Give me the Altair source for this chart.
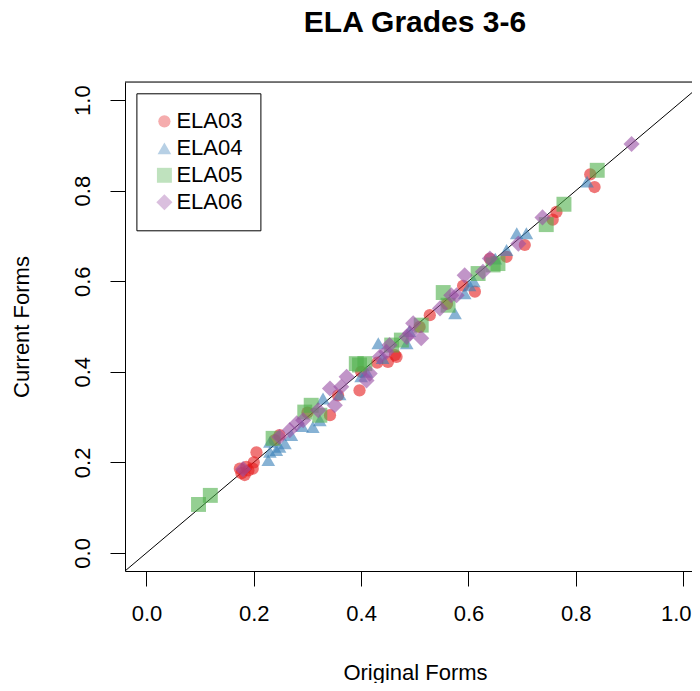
import altair as alt
import pandas as pd

# ---- data ----
groups = ["ELA03", "ELA04", "ELA05", "ELA06"]
colors = ["#E41A1C", "#377EB8", "#4DAF4A", "#984EA3"]
shapes = ["circle", "triangle-up", "square", "diamond"]
sizes = [150, 260, 120, 215]

ela03_orig = [0.174, 0.177, 0.183, 0.186, 0.190, 0.198, 0.205, 0.200, 0.239, 0.248, 0.300, 0.342, 0.357,
              0.397, 0.400, 0.430, 0.450, 0.466, 0.463, 0.509, 0.528, 0.560, 0.590, 0.612, 0.640, 0.671,
              0.705, 0.757, 0.764, 0.827, 0.835]
ela03_curr = [0.186, 0.176, 0.172, 0.190, 0.182, 0.186, 0.222, 0.200, 0.249, 0.260, 0.310, 0.304, 0.348,
              0.359, 0.400, 0.420, 0.422, 0.433, 0.437, 0.499, 0.525, 0.550, 0.590, 0.577, 0.650, 0.654,
              0.680, 0.736, 0.753, 0.836, 0.808]

ela04_orig = [0.227, 0.230, 0.242, 0.248, 0.230, 0.258, 0.270, 0.290, 0.310, 0.323, 0.329, 0.360, 0.400,
              0.410, 0.432, 0.440, 0.485, 0.490, 0.575, 0.593, 0.602, 0.610, 0.650, 0.671, 0.690, 0.708,
              0.821]
ela04_curr = [0.205, 0.223, 0.227, 0.234, 0.245, 0.242, 0.260, 0.280, 0.278, 0.293, 0.341, 0.350, 0.390,
              0.400, 0.463, 0.430, 0.463, 0.490, 0.529, 0.573, 0.591, 0.600, 0.650, 0.669, 0.706, 0.706,
              0.820]

ela05_orig = [0.097, 0.119, 0.236, 0.295, 0.307, 0.323, 0.391, 0.397, 0.407, 0.457, 0.475, 0.512, 0.553,
              0.562, 0.618, 0.646, 0.655, 0.745, 0.778, 0.840]
ela05_curr = [0.107, 0.127, 0.253, 0.311, 0.326, 0.304, 0.418, 0.415, 0.418, 0.459, 0.470, 0.503, 0.575,
              0.547, 0.617, 0.636, 0.639, 0.725, 0.770, 0.845]

ela06_orig = [0.180, 0.248, 0.267, 0.280, 0.292, 0.320, 0.342, 0.351, 0.363, 0.373, 0.410, 0.416, 0.435,
              0.447, 0.453, 0.485, 0.491, 0.497, 0.512, 0.547, 0.568, 0.578, 0.593, 0.627, 0.640, 0.693,
              0.738, 0.904]
ela06_curr = [0.185, 0.256, 0.271, 0.286, 0.293, 0.315, 0.363, 0.326, 0.367, 0.389, 0.381, 0.396, 0.433,
              0.444, 0.459, 0.477, 0.485, 0.507, 0.474, 0.540, 0.569, 0.569, 0.613, 0.621, 0.650, 0.683,
              0.741, 0.903]

tick_values = [0.0, 0.2, 0.4, 0.6, 0.8, 1.0]
x_domain = [-0.04, 1.0166]
y_domain = [-0.04, 1.04]

series = [(ela03_orig, ela03_curr), (ela04_orig, ela04_curr), (ela05_orig, ela05_curr), (ela06_orig, ela06_curr)]
rows = []
for g, (xs, ys) in zip(groups, series):
    for a, b in zip(xs, ys):
        rows.append({"grade": g, "original": a, "current": b})
df = pd.DataFrame(rows)

line_df = pd.DataFrame({"original": y_domain, "current": y_domain})
top_df = pd.DataFrame({"current": [y_domain[1]]})

FONT = "Liberation Sans"

x_scale = alt.Scale(domain=x_domain, nice=False, zero=False)
y_scale = alt.Scale(domain=y_domain, nice=False, zero=False)

x_axis = alt.Axis(values=tick_values, format=".1f", grid=False, tickSize=15, tickColor="black",
                  domainColor="black", labelFontSize=22, labelFont=FONT, labelColor="black",
                  labelBaseline="alphabetic", labelPadding=34, labelFlush=False, labelOverlap=False,
                  labelAlign={"condition": {"test": "datum.value >= 0.99", "value": "right"}, "value": "center"},
                  labelOffset={"condition": {"test": "datum.value >= 0.99", "value": 8}, "value": 0},
                  titleFontSize=22, titleFont=FONT, titleFontWeight="normal", titleColor="black",
                  titleX=290, titleY=108, titleBaseline="alphabetic", titleAlign="center")
y_axis = alt.Axis(values=tick_values, format=".1f", grid=False, tickSize=15, tickColor="black",
                  domainColor="black", labelFontSize=22, labelFont=FONT, labelColor="black",
                  labelAngle=-90, labelAlign="center", labelBaseline="alphabetic", labelPadding=21,
                  labelFlush=False, labelOverlap=False,
                  titleFontSize=22, titleFont=FONT, titleFontWeight="normal", titleColor="black",
                  titleAngle=-90, titleX=-97, titleY=244.5, titleBaseline="alphabetic", titleAlign="center")

points = alt.Chart(df).mark_point(filled=True, opacity=0.6, strokeWidth=0).encode(
    x=alt.X("original:Q", scale=x_scale, axis=x_axis, title="Original Forms"),
    y=alt.Y("current:Q", scale=y_scale, axis=y_axis, title="Current Forms"),
    color=alt.Color("grade:N", scale=alt.Scale(domain=groups, range=colors),
                    legend=alt.Legend(title=None, orient="none", legendX=11.4, legendY=11.3,
                                      strokeColor="black", fillColor="white", padding=17,
                                      cornerRadius=0, labelFontSize=22, labelFont=FONT,
                                      labelColor="black", labelOffset=1, rowPadding=5,
                                      symbolOpacity=0.6, symbolStrokeWidth=0)),
    shape=alt.Shape("grade:N", scale=alt.Scale(domain=groups, range=shapes)),
    size=alt.Size("grade:N", scale=alt.Scale(domain=groups, range=sizes)),
)

diag = alt.Chart(line_df).mark_line(color="black", strokeWidth=1, clip=True).encode(
    x=alt.X("original:Q", scale=x_scale),
    y=alt.Y("current:Q", scale=y_scale),
)

top = alt.Chart(top_df).mark_rule(color="black", strokeWidth=1).encode(
    y=alt.Y("current:Q", scale=y_scale),
)

chart = alt.layer(diag, points, top).properties(
    width=567,
    height=489,
    title=alt.Title("ELA Grades 3-6", fontSize=30, font=FONT, fontWeight="bold", color="black",
                    anchor="middle", offset=20, baseline="alphabetic", dx=6.5),
    autosize=alt.AutoSizeParams(type="none"),
    padding={"left": 117, "top": 74, "right": 0, "bottom": 112},
).configure_view(stroke=None).configure(background="white")

chart.save("out.html", embed_options={"renderer": "svg", "actions": False})
